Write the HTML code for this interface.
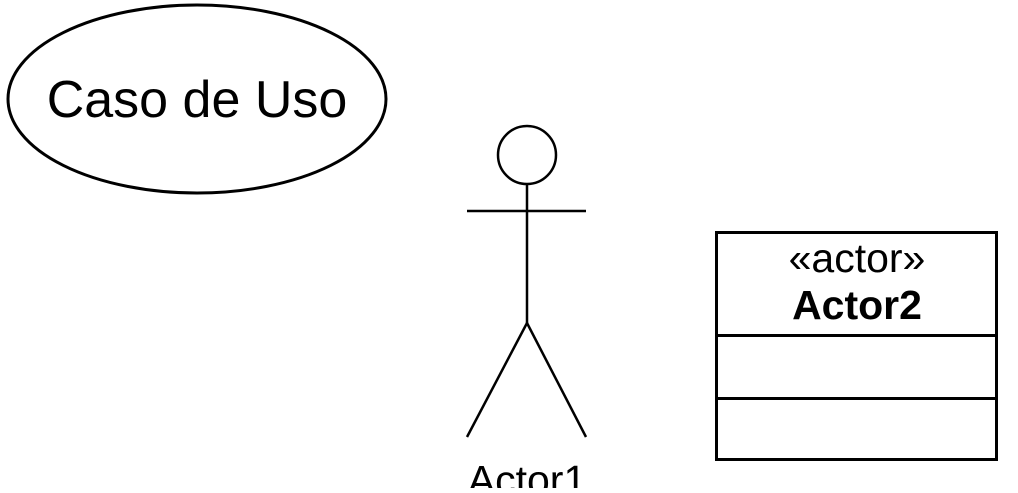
<!DOCTYPE html>
<html><head><meta charset="utf-8"><style>html,body{margin:0;padding:0;background:#fff;overflow:hidden}</style></head>
<body>
<svg width="1018" height="488" xmlns="http://www.w3.org/2000/svg" font-family="Liberation Sans, sans-serif">
<rect width="1018" height="488" fill="#fff"/>
<ellipse cx="197" cy="99" rx="189" ry="94" fill="#fff" stroke="#000" stroke-width="3"/>
<text x="197" y="117" font-size="52" text-anchor="middle">Caso de Uso</text>
<g stroke="#000" stroke-width="2.5" fill="none">
<circle cx="527" cy="155" r="29"/>
<line x1="527" y1="184" x2="527" y2="323"/>
<line x1="467" y1="211" x2="586" y2="211"/>
<line x1="527" y1="323" x2="467" y2="437"/>
<line x1="527" y1="323" x2="586" y2="437"/>
</g>
<text x="527" y="494" font-size="41" text-anchor="middle">Actor1</text>
<rect x="716.5" y="232.5" width="280" height="227" fill="#fff" stroke="#000" stroke-width="3"/>
<line x1="716" y1="335.5" x2="997" y2="335.5" stroke="#000" stroke-width="3"/>
<line x1="716" y1="398.5" x2="997" y2="398.5" stroke="#000" stroke-width="3"/>
<text x="857" y="272" font-size="41" text-anchor="middle">«actor»</text>
<text x="857" y="319" font-size="41" font-weight="bold" text-anchor="middle">Actor2</text>
</svg>
</body></html>
